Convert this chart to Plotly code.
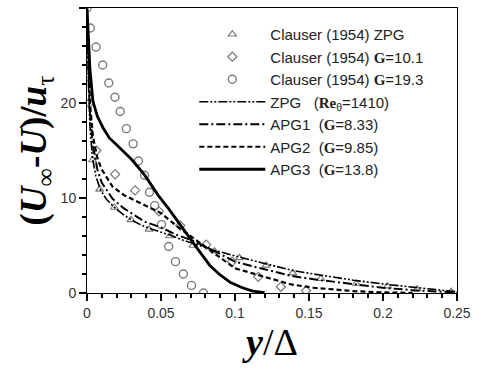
import plotly.graph_objects as go

# Clauser (1954) ZPG (triangles)
tri_x = [0.0037, 0.0086, 0.0185, 0.0297, 0.042, 0.0558, 0.0716, 0.0862, 0.103, 0.121, 0.139, 0.158, 0.182, 0.203, 0.223, 0.246]
tri_y = [14.0, 10.9, 9.0, 7.7, 6.7, 6.0, 5.0, 4.4, 3.7, 2.9, 2.1, 1.5, 1.0, 0.73, 0.4, 0.14]
# Clauser (1954) G=10.1 (diamonds)
dia_x = [0.0015, 0.0064, 0.019, 0.0325, 0.0486, 0.063, 0.0805, 0.098, 0.1157, 0.131, 0.148]
dia_y = [20.0, 15.0, 12.5, 10.8, 8.6, 7.1, 5.1, 3.3, 1.7, 0.66, 0.24]
# Clauser (1954) G=19.3 (circles)
cir_x = [0.0, 0.0022, 0.0061, 0.0106, 0.0147, 0.0189, 0.0224, 0.0266, 0.0312, 0.0348, 0.0389, 0.0422, 0.0457, 0.0503, 0.0552, 0.0598, 0.0651, 0.0706, 0.0787]
cir_y = [30.0, 27.9, 25.9, 24.0, 22.1, 20.6, 19.1, 17.3, 15.7, 13.9, 12.4, 10.6, 9.2, 7.2, 4.9, 3.3, 2.0, 0.8, 0.0]

# ZPG (Re_theta=1410)
zpg_x = [0.0005, 0.001, 0.002, 0.0037, 0.006, 0.009, 0.013, 0.0185, 0.025, 0.03, 0.036, 0.042, 0.05, 0.056, 0.064, 0.072, 0.086, 0.1, 0.12, 0.138, 0.153, 0.18, 0.2, 0.22, 0.246, 0.25]
zpg_y = [28, 22, 17.5, 14.2, 12.3, 10.9, 9.9, 9.0, 8.2, 7.7, 7.2, 6.8, 6.4, 6.1, 5.6, 5.2, 4.5, 3.9, 3.1, 2.4, 2.0, 1.35, 0.95, 0.6, 0.2, 0.12]
# APG1 (G=8.33)
apg1_x = [0.0005, 0.001, 0.002, 0.004, 0.007, 0.01, 0.0174, 0.025, 0.039, 0.05, 0.061, 0.07, 0.08, 0.1, 0.12, 0.138, 0.153, 0.18, 0.2, 0.22, 0.246, 0.25]
apg1_y = [28, 23, 19, 15.5, 13, 11.6, 9.9, 8.9, 7.5, 6.9, 6.1, 5.6, 4.9, 3.3, 2.5, 1.8, 1.45, 0.9, 0.55, 0.3, 0.08, 0.05]
# APG2 (G=9.85)
apg2_x = [0.0005, 0.001, 0.002, 0.004, 0.007, 0.01, 0.0172, 0.025, 0.039, 0.05, 0.061, 0.07, 0.08, 0.1, 0.12, 0.138, 0.153, 0.18, 0.2, 0.22]
apg2_y = [28, 24, 20, 16.5, 14.2, 13, 11.2, 10.3, 9.2, 8.4, 7.0, 6.0, 4.9, 2.6, 1.7, 0.9, 0.55, 0.2, 0.06, 0.01]
# APG3 (G=13.8)
apg3_x = [0.0, 0.001, 0.002, 0.004, 0.007, 0.0108, 0.0152, 0.02, 0.026, 0.0305, 0.039, 0.048, 0.055, 0.0613, 0.068, 0.0745, 0.083, 0.09, 0.097, 0.105, 0.112, 0.12]
apg3_y = [30, 26, 23.5, 20.2, 18.6, 17.4, 16.3, 15.6, 14.7, 14.0, 12.4, 10.3, 8.9, 7.5, 6.1, 4.7, 2.9, 1.9, 1.1, 0.55, 0.2, 0.03]

x_ticks = [0, 0.05, 0.1, 0.15, 0.2, 0.25]
y_ticks = [0, 10, 20, 30]

G = "<span style='font-family:Liberation Serif'><b>G</b></span>"
names = [
    "Clauser (1954) ZPG",
    "Clauser (1954) " + G + "=10.1",
    "Clauser (1954) " + G + "=19.3",
    "ZPG   (<span style='font-family:Liberation Serif'><b>Re</b></span><sub>θ</sub>=1410)",
    "APG1  (" + G + "=8.33)",
    "APG2  (" + G + "=9.85)",
    "APG3  (" + G + "=13.8)",
]

mcol = "#7a7a7a"
fig = go.Figure()
fig.add_trace(go.Scatter(x=tri_x, y=tri_y, mode="markers", name=names[0],
                         marker=dict(symbol="triangle-up-open", size=7, color=mcol, line=dict(width=1.2))))
fig.add_trace(go.Scatter(x=dia_x, y=dia_y, mode="markers", name=names[1],
                         marker=dict(symbol="diamond-open", size=7, color=mcol, line=dict(width=1.2))))
fig.add_trace(go.Scatter(x=cir_x, y=cir_y, mode="markers", name=names[2],
                         marker=dict(symbol="circle-open", size=8, color=mcol, line=dict(width=1.4))))
fig.add_trace(go.Scatter(x=zpg_x, y=zpg_y, mode="lines", name=names[3],
                         line=dict(color="black", width=1.6, dash="9px,2px,2px,2px,2px,2px")))
fig.add_trace(go.Scatter(x=apg1_x, y=apg1_y, mode="lines", name=names[4],
                         line=dict(color="black", width=2, dash="9px,3px,2px,3px")))
fig.add_trace(go.Scatter(x=apg2_x, y=apg2_y, mode="lines", name=names[5],
                         line=dict(color="black", width=2.2, dash="5px,3px")))
fig.add_trace(go.Scatter(x=apg3_x, y=apg3_y, mode="lines", name=names[6],
                         line=dict(color="black", width=2.8)))

fig.update_xaxes(range=[x_ticks[0], x_ticks[-1]], tick0=x_ticks[0], dtick=x_ticks[1] - x_ticks[0],
                 showline=True, linecolor="black", mirror=True,
                 ticks="outside", ticklen=7, tickwidth=2, tickcolor="black",
                 ticklabeloverflow="allow",
                 tickfont=dict(family="Liberation Sans, Arial", size=14, color="#333333"),
                 minor=dict(dtick=0.01, ticks="outside", ticklen=4, tickcolor="black"),
                 title=dict(text="<b><i>y</i></b>/Δ", font=dict(family="Liberation Serif", size=38, color="black"), standoff=6))
fig.update_yaxes(range=[y_ticks[0], y_ticks[-1]], tick0=y_ticks[0], dtick=y_ticks[1] - y_ticks[0],
                 showline=True, linecolor="black", mirror=True,
                 ticks="outside", ticklen=7, tickwidth=2, tickcolor="black",
                 tickfont=dict(family="Liberation Sans, Arial", size=14, color="#333333"),
                 minor=dict(dtick=2, ticks="outside", ticklen=4, tickcolor="black"),
                 title=dict(text="<b>(<i>U</i></b><sub>∞</sub><b>-<i>U</i>)/<i>u</i></b><sub>τ</sub>",
                            font=dict(family="Liberation Serif", size=37, color="black"), standoff=2))

fig.update_layout(
    template="simple_white",
    width=478, height=369,
    margin=dict(l=87, r=12, t=7, b=76),
    showlegend=True,
    legend=dict(x=0.29, y=0.965, xanchor="left", yanchor="top", bgcolor="rgba(0,0,0,0)",
                font=dict(family="Liberation Sans, Arial", size=15, color="#222222"),
                itemwidth=66, tracegroupgap=0),
)

fig.write_html("out.html")
